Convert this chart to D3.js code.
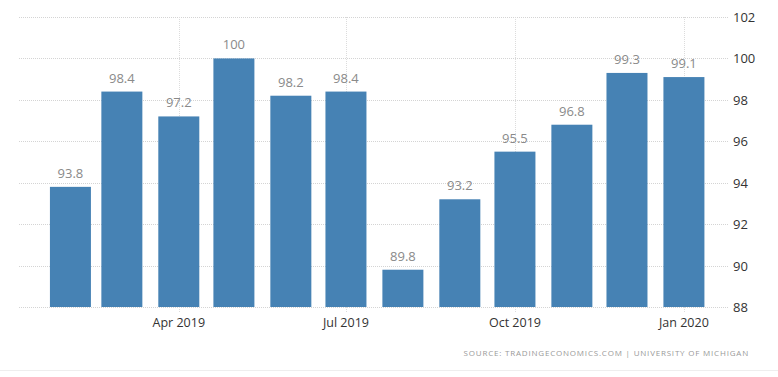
<!DOCTYPE html>
<html>
<head>
<meta charset="utf-8">
<script src="https://cdn.jsdelivr.net/npm/d3@7"></script>
<style>
  body { margin: 0; background: #fff; }
  svg { display: block; font-family: "Open Sans", "DejaVu Sans", sans-serif; }
</style>
</head>
<body>
<div id="chart"></div>
<script>
// monthly values, Feb 2019 - Jan 2020
const months = ['2019-02-01', '2019-03-01', '2019-04-01', '2019-05-01', '2019-06-01', '2019-07-01',
                '2019-08-01', '2019-09-01', '2019-10-01', '2019-11-01', '2019-12-01', '2020-01-01'];
const values = [93.8, 98.4, 97.2, 100, 98.2, 98.4, 89.8, 93.2, 95.5, 96.8, 99.3, 99.1];
const xTicks = ['2019-04-01', '2019-07-01', '2019-10-01', '2020-01-01'];
const yTicks = [88, 90, 92, 94, 96, 98, 100, 102];

const parse = d3.utcParse('%Y-%m-%d');
const data = months.map((m, i) => ({date: parse(m), value: values[i]}));

const width = 778, height = 377;
const svg = d3.select('#chart').append('svg')
    .attr('width', width)
    .attr('height', height);

const x = d3.scaleUtc()
    .domain([parse('2019-01-04'), parse('2020-01-25')])
    .range([19, 728]);

const y = d3.scaleLinear()
    .domain([88, 102])
    .range([307, 17]);

const barWidth = 41;

// horizontal grid
svg.append('g')
    .selectAll('line')
    .data(yTicks)
    .enter()
    .append('line')
    .attr('x1', 19)
    .attr('x2', 728)
    .attr('y1', d => Math.round(y(d)) + 0.5)
    .attr('y2', d => Math.round(y(d)) + 0.5)
    .attr('stroke', '#d4d4d4')
    .attr('stroke-dasharray', '1,1');

// vertical grid
svg.append('g')
    .selectAll('line')
    .data(xTicks.map(parse))
    .enter()
    .append('line')
    .attr('x1', d => Math.round(x(d)) + 0.5)
    .attr('x2', d => Math.round(x(d)) + 0.5)
    .attr('y1', 17)
    .attr('y2', 312)
    .attr('stroke', '#dcdcdc')
    .attr('stroke-dasharray', '1,1');

// bars
svg.append('g')
    .selectAll('rect')
    .data(data)
    .enter()
    .append('rect')
    .attr('x', d => x(d.date) - barWidth / 2)
    .attr('y', d => y(d.value))
    .attr('width', barWidth)
    .attr('height', d => y(88) - y(d.value))
    .attr('fill', '#4682b4');

// value labels
svg.append('g')
    .selectAll('text')
    .data(data)
    .enter()
    .append('text')
    .attr('x', d => x(d.date))
    .attr('y', d => y(d.value) - 9)
    .attr('text-anchor', 'middle')
    .style('font-size', '13px')
    .attr('fill', '#8a8a8a')
    .text(d => d.value);

// y axis labels (right)
svg.append('g')
    .selectAll('text')
    .data(yTicks)
    .enter()
    .append('text')
    .attr('x', 733)
    .attr('y', d => y(d) + 5)
    .style('font-size', '13px')
    .attr('fill', '#333')
    .text(d => d);

// x axis labels
const fmt = d3.utcFormat('%b %Y');
svg.append('g')
    .selectAll('text')
    .data(xTicks.map(parse))
    .enter()
    .append('text')
    .attr('x', d => x(d))
    .attr('y', 327)
    .attr('text-anchor', 'middle')
    .style('font-size', '12.5px')
    .attr('fill', '#333')
    .text(d => fmt(d));

// source
svg.append('text')
    .attr('x', 749)
    .attr('y', 356)
    .attr('text-anchor', 'end')
    .style('font-size', '8px')
    .style('letter-spacing', '0.8px')
    .attr('fill', '#999')
    .text('SOURCE: TRADINGECONOMICS.COM | UNIVERSITY OF MICHIGAN');

svg.append('line')
    .attr('x1', 0)
    .attr('x2', width)
    .attr('y1', 370.5)
    .attr('y2', 370.5)
    .attr('stroke', '#eee');
</script>
</body>
</html>
